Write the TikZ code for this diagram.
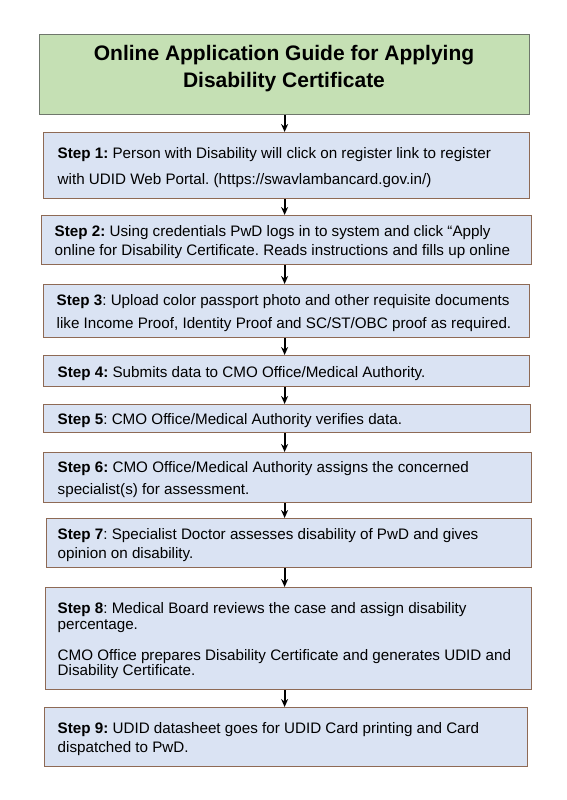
\documentclass[tikz,border=0pt]{standalone}
\usepackage{fontspec}
\setmainfont{Liberation Sans}
\usetikzlibrary{arrows.meta}
\definecolor{titlefill}{HTML}{C5E0B4}
\definecolor{titleline}{HTML}{6F776C}
\definecolor{stepfill}{HTML}{DAE3F3}
\definecolor{stepline}{HTML}{8E6A55}
\tikzset{
  titlebox/.style={draw=titleline, line width=1.2pt, fill=titlefill, anchor=north west, inner sep=0pt},
  stepbox/.style={draw=stepline, line width=1.4pt, fill=stepfill, anchor=north west, inner ysep=0pt, align=flush left},
  arr/.style={-{Stealth[length=8pt,width=7pt]}, line width=1.8pt, black},
}
\newcommand{\stepfont}[1]{\fontsize{15.2}{#1}\selectfont\frenchspacing}
\newcommand{\topstrut}{\rule{0pt}{15pt}}
\begin{document}
\begin{tikzpicture}[x=1pt,y=-1pt]
\useasboundingbox (0,0) rectangle (566,800);
\fill[white] (0,0) rectangle (566,800);
% title
\node[titlebox, minimum width=490, minimum height=80] (title) at (39,34) {};
\node[font=\fontsize{21}{26.7}\selectfont\bfseries, align=center, anchor=base] (titletext) at (284,87.7)
  {Online Application Guide for Applying\\Disability Certificate};
% steps
\node[stepbox, minimum width=486, minimum height=66, inner xsep=14, text width=458, font=\stepfont{26.7}] (s1) at (43,132)
  {\topstrut\textbf{Step 1:} Person with Disability will click on register link to register\\with UDID Web Portal. (https://swavlambancard.gov.in/)};
\node[stepbox, minimum width=490, minimum height=49, inner xsep=13, text width=464, font=\stepfont{18.3}] (s2) at (41,215)
  {\topstrut\textbf{Step 2:} Using credentials PwD logs in to system and click “Apply\\online for Disability Certificate. Reads instructions and fills up online};
\node[stepbox, minimum width=486, minimum height=53, inner xsep=13, text width=460, font=\stepfont{22.3}] (s3) at (43,284)
  {\topstrut\textbf{Step 3}: Upload color passport photo and other requisite documents\\like Income Proof, Identity Proof and SC/ST/OBC proof as required.};
\node[stepbox, minimum width=486, minimum height=31, inner xsep=14, text width=458, font=\stepfont{18}] (s4) at (43,355)
  {\topstrut\textbf{Step 4:} Submits data to CMO Office/Medical Authority.};
\node[stepbox, minimum width=487, minimum height=28, inner xsep=14, text width=459, font=\stepfont{18}] (s5) at (43,404)
  {\topstrut\textbf{Step 5}: CMO Office/Medical Authority verifies data.};
\node[stepbox, minimum width=488, minimum height=50, inner xsep=14, text width=460, font=\stepfont{22.6}] (s6) at (43,452)
  {\topstrut\textbf{Step 6:} CMO Office/Medical Authority assigns the concerned\\specialist(s) for assessment.};
\node[stepbox, minimum width=485, minimum height=49, inner xsep=11, text width=463, font=\stepfont{19.4}] (s7) at (46,518)
  {\topstrut\textbf{Step 7}: Specialist Doctor assesses disability of PwD and gives\\opinion on disability.};
\node[stepbox, minimum width=486, minimum height=102, inner xsep=12, text width=462, font=\stepfont{15.7}] (s8) at (45,587)
  {\topstrut\textbf{Step 8}: Medical Board reviews the case and assign disability\\percentage.\\[15.3pt]CMO Office prepares Disability Certificate and generates UDID and\\Disability Certificate.};
\node[stepbox, minimum width=483, minimum height=59, inner xsep=13, text width=457, font=\stepfont{19}] (s9) at (44,707)
  {\topstrut\textbf{Step 9:} UDID datasheet goes for UDID Card printing and Card\\dispatched to PwD.};
% connectors
\draw[arr] (title.south) -- (title.south |- s1.north);
\draw[arr] (title.south |- s1.south) -- (title.south |- s2.north);
\draw[arr] (title.south |- s2.south) -- (title.south |- s3.north);
\draw[arr] (title.south |- s3.south) -- (title.south |- s4.north);
\draw[arr] (title.south |- s4.south) -- (title.south |- s5.north);
\draw[arr] (title.south |- s5.south) -- (title.south |- s6.north);
\draw[arr] (title.south |- s6.south) -- (title.south |- s7.north);
\draw[arr] (title.south |- s7.south) -- (title.south |- s8.north);
\draw[arr] (title.south |- s8.south) -- (title.south |- s9.north);
\end{tikzpicture}
\end{document}
